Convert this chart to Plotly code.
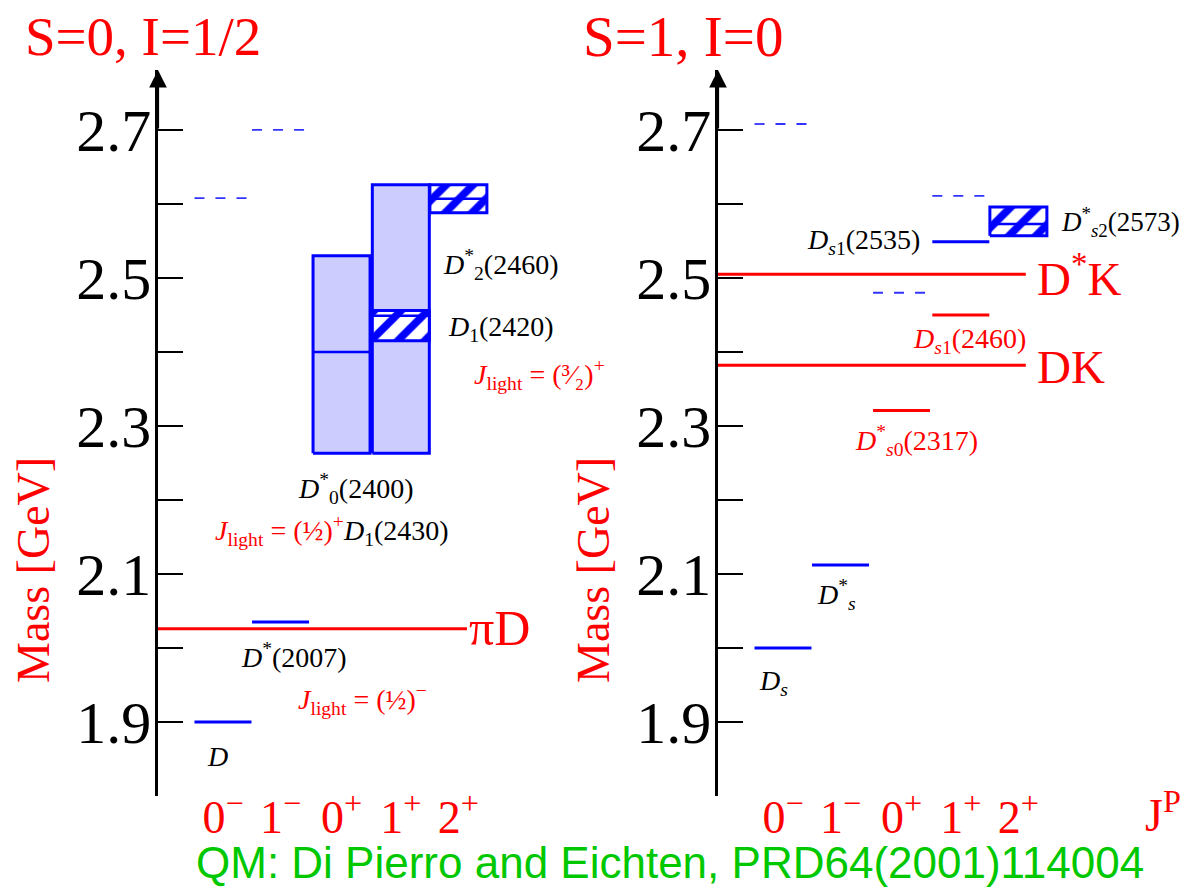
import plotly.graph_objects as go

# ---------------- data ----------------
JP_LABELS = ["0<sup>−</sup>", "1<sup>−</sup>", "0<sup>+</sup>", "1<sup>+</sup>", "2<sup>+</sup>"]
COL_CENTER = [1.14, 2.15, 3.22, 4.26, 5.27]

# S=0, I=1/2 sector
S0_LEVEL_COL = [0, 1]
S0_LEVEL_MASS = [1.900, 2.035]
S0_QM_COL = [0, 1]
S0_QM_MASS = [2.608, 2.700]
S0_BROAD_COL = [2, 3]
S0_BROAD_LOW = [2.263, 2.263]
S0_BROAD_HIGH = [2.530, 2.626]
S0_BROAD_MID = [2.400, None]
S0_HATCH_COL = [3, 4]
S0_HATCH_LOW = [2.415, 2.588]
S0_HATCH_HIGH = [2.456, 2.626]
S0_HATCH_MID = [2.449, 2.607]
S0_THRESH_NAME = ["πD"]
S0_THRESH_MASS = [2.026]

# S=1, I=0 sector
S1_LEVEL_COL = [0, 1, 2, 3, 3]
S1_LEVEL_MASS = [2.000, 2.112, 2.321, 2.450, 2.549]
S1_LEVEL_NEW = [False, False, True, True, False]
S1_QM_COL = [0, 2, 3]
S1_QM_MASS = [2.708, 2.480, 2.611]
S1_HATCH_COL = [4]
S1_HATCH_LOW = [2.557]
S1_HATCH_HIGH = [2.596]
S1_HATCH_MID = [2.573]
S1_THRESH_NAME = ["DK", "D<sup>*</sup>K"]
S1_THRESH_MASS = [2.382, 2.505]

Y_TICKS = [1.8, 1.9, 2.0, 2.1, 2.2, 2.3, 2.4, 2.5, 2.6, 2.7]
Y_TICK_TEXT = ["", "1.9", "", "2.1", "", "2.3", "", "2.5", "", "2.7"]

# ---------------- style ----------------
SERIF = "Liberation Serif"
SANS = "Liberation Sans"
BLUE = "#0000ff"
RED = "#ff0000"
HALF = 0.5
W, H = 1185, 890

fig = go.Figure()


def level(xa, ya, c, m, color, width=3, dash=None):
    fig.add_trace(go.Scatter(
        x=[COL_CENTER[c] - HALF, COL_CENTER[c] + HALF], y=[m, m],
        mode="lines", line=dict(color=color, width=width, dash=dash),
        xaxis=xa, yaxis=ya, showlegend=False, hoverinfo="skip"))


def box(xa, ya, c, lo, hi, hatch):
    x0, x1 = COL_CENTER[c] - HALF, COL_CENTER[c] + HALF
    kw = dict(x=[x0, x1, x1, x0, x0], y=[lo, lo, hi, hi, lo], mode="lines",
              fill="toself", line=dict(color=BLUE, width=3),
              xaxis=xa, yaxis=ya, showlegend=False, hoverinfo="skip")
    if hatch:
        kw["fillcolor"] = "white"
        kw["fillpattern"] = dict(shape="/", fgcolor=BLUE, bgcolor="white",
                                 fgopacity=1, size=19, solidity=0.4)
    else:
        kw["fillcolor"] = "#ccccff"
    fig.add_trace(go.Scatter(**kw))


def threshold(xa, ya, m, xend):
    fig.add_trace(go.Scatter(
        x=[0, xend], y=[m, m], mode="lines", line=dict(color=RED, width=3),
        xaxis=xa, yaxis=ya, showlegend=False, hoverinfo="skip"))


# ----- left panel -----
for c, lo, hi, mid in zip(S0_BROAD_COL, S0_BROAD_LOW, S0_BROAD_HIGH, S0_BROAD_MID):
    box("x", "y", c, lo, hi, False)
    if mid is not None:
        level("x", "y", c, mid, BLUE, 2.5)
for c, lo, hi, mid in zip(S0_HATCH_COL, S0_HATCH_LOW, S0_HATCH_HIGH, S0_HATCH_MID):
    box("x", "y", c, lo, hi, True)
    level("x", "y", c, mid, BLUE, 2.5)
for c, m in zip(S0_LEVEL_COL, S0_LEVEL_MASS):
    level("x", "y", c, m, BLUE, 3)
for c, m in zip(S0_QM_COL, S0_QM_MASS):
    level("x", "y", c, m, "#3333ff", 1.8, "10px,11px")
for m in S0_THRESH_MASS:
    threshold("x", "y", m, 5.42)

# ----- right panel -----
for c, lo, hi, mid in zip(S1_HATCH_COL, S1_HATCH_LOW, S1_HATCH_HIGH, S1_HATCH_MID):
    box("x2", "y2", c, lo, hi, True)
    level("x2", "y2", c, mid, BLUE, 2.5)
for c, m, new in zip(S1_LEVEL_COL, S1_LEVEL_MASS, S1_LEVEL_NEW):
    level("x2", "y2", c, m, RED if new else BLUE, 3)
for c, m in zip(S1_QM_COL, S1_QM_MASS):
    level("x2", "y2", c, m, "#3333ff", 1.8, "10px,11px")
for m in S1_THRESH_MASS:
    threshold("x2", "y2", m, 5.40)

# ---------------- axes ----------------
Y_RANGE = [1.8, 2.781]
Y_DOM = [1 - 796 / H, 1 - 70 / H]
PX = 57.0  # pixels per column unit

yax = dict(range=Y_RANGE, domain=Y_DOM, showgrid=False, zeroline=False,
           showline=True, linecolor="black", linewidth=2.5,
           ticks="inside", ticklen=25, tickwidth=1.5, tickcolor="black",
           tickvals=Y_TICKS, ticktext=Y_TICK_TEXT, ticklabelstandoff=-8,
           tickfont=dict(family=SERIF, size=60, color="black"), fixedrange=True)
xax = dict(showgrid=False, zeroline=False, showline=False, ticks="",
           tickvals=COL_CENTER, ticktext=JP_LABELS, ticklabelstandoff=-10,
           tickfont=dict(family=SERIF, size=46, color=RED), fixedrange=True)

fig.update_layout(
    width=W, height=H, margin=dict(l=0, r=0, t=0, b=0),
    paper_bgcolor="white", plot_bgcolor="white",
    xaxis=dict(xax, domain=[158 / W, 700 / W], range=[0, 542 / PX], anchor="y"),
    yaxis=dict(yax, anchor="x"),
    xaxis2=dict(xax, domain=[718 / W, 1.0], range=[0, 467 / PX], anchor="y2"),
    yaxis2=dict(yax, anchor="x2"),
)

ann = []
# axis arrows
for xr, yr in (("x", "y"), ("x2", "y2")):
    ann.append(dict(x=0, y=Y_RANGE[1], ax=0, ay=2.70, xref=xr, yref=yr,
                    axref=xr, ayref=yr, showarrow=True, arrowhead=2,
                    arrowsize=1.6, arrowwidth=2.2, arrowcolor="black", text=""))


def lab(text, xr, yr, x, y, color="black", size=28, xanchor="center", family=SERIF):
    ann.append(dict(text=text, x=x, y=y, xref=xr, yref=yr, showarrow=False,
                    xanchor=xanchor, yanchor="middle",
                    font=dict(family=family, size=size, color=color)))


JL = "<i>J</i><sub>light</sub> = "
# left labels
lab("<i>D</i>", "x", "y", 1.05, 1.854)
lab("<i>D</i><sup>*</sup>(2007)", "x", "y", 2.39, 1.99)
lab(JL + "(½)<sup>−</sup>", "x", "y", 3.58, 1.93, RED)
lab("<i>D</i><sup>*</sup><sub>0</sub>(2400)", "x", "y", 3.46, 2.216)
lab("<span style='color:#ff0000'>" + JL + "(½)<sup>+</sup></span><i>D</i><sub>1</sub>(2430)",
    "x", "y", 3.05, 2.159)
lab("<i>D</i><sup>*</sup><sub>2</sub>(2460)", "x", "y", 6.0, 2.518)
lab("<i>D</i><sub>1</sub>(2420)", "x", "y", 6.02, 2.432)
lab(JL + "(³⁄₂)<sup>+</sup>", "x", "y", 6.70, 2.369, RED)
for name, m in zip(S0_THRESH_NAME, S0_THRESH_MASS):
    lab(name, "x", "y", 5.42, m + 0.001, RED, 50, "left")

# right labels
lab("<i>D<sub>s</sub></i>", "x2", "y2", 0.97, 1.953)
lab("<i>D</i><sup>*</sup><sub><i>s</i></sub>", "x2", "y2", 2.08, 2.072)
lab("<i>D</i><sup>*</sup><sub><i>s</i>0</sub>(2317)", "x2", "y2", 3.48, 2.281, RED)
lab("<i>D</i><sub><i>s</i>1</sub>(2460)", "x2", "y2", 4.42, 2.416, RED)
lab("<i>D</i><sub><i>s</i>1</sub>(2535)", "x2", "y2", 3.58, 2.549, xanchor="right")
lab("<i>D</i><sup>*</sup><sub><i>s</i>2</sub>(2573)", "x2", "y2", 8.14, 2.576,
    size=27, xanchor="right")
for name, m in zip(S1_THRESH_NAME, S1_THRESH_MASS):
    lab(name, "x2", "y2", 5.56, m - 0.002, RED, 47, "left")

# titles and axis titles
lab("S=0, I=1/2", "paper", "paper", 143 / W, 1 - 37 / H, RED, 55)
lab("S=1, I=0", "paper", "paper", 683 / W, 1 - 37 / H, RED, 57)
for xc in (33, 593):
    ann.append(dict(text="Mass [GeV]", x=xc / W, y=1 - 570 / H, xref="paper", yref="paper",
                    showarrow=False, textangle=-90, xanchor="center", yanchor="middle",
                    font=dict(family=SERIF, size=46, color=RED)))
ann.append(dict(text="J<sup>P</sup>", x=1183 / W, y=1 - 812 / H, xref="paper", yref="paper",
                showarrow=False, xanchor="right", yanchor="middle",
                font=dict(family=SERIF, size=46, color=RED)))
lab("QM: Di Pierro and Eichten, PRD64(2001)114004", "paper", "paper",
    670 / W, 1 - 862 / H, "#00c800", 44, family=SANS)

fig.update_layout(annotations=ann)
fig.write_html("out.html", config={"displayModeBar": False},
               post_script="document.body.style.margin='0';document.body.style.overflow='hidden';")
